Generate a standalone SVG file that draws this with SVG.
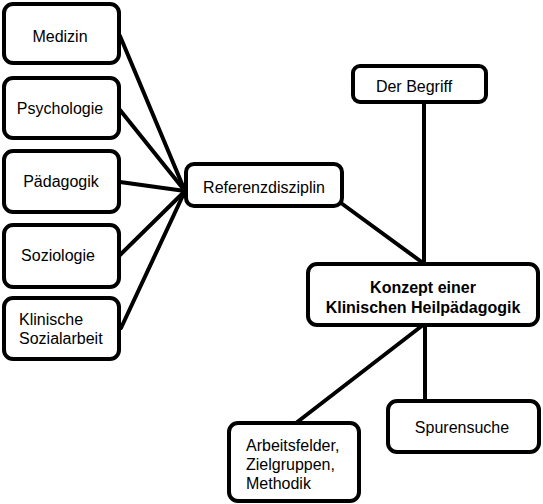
<svg xmlns="http://www.w3.org/2000/svg" width="543" height="504" viewBox="0 0 543 504">
<style>
.box{fill:#fff;stroke:#000;stroke-width:4}
.t{font-family:"Liberation Sans",Arial,sans-serif;font-size:16px;fill:#000}
.c{text-anchor:middle}
.b{font-weight:bold}
.ln{stroke:#000;stroke-width:4;fill:none;stroke-linecap:round}
</style>
<rect width="543" height="504" fill="#fff"/>
<g id="connectors">
<line class="ln" x1="120" y1="36" x2="185" y2="191"/>
<line class="ln" x1="120" y1="110" x2="185" y2="191"/>
<line class="ln" x1="120" y1="182" x2="185" y2="191"/>
<line class="ln" x1="120" y1="255" x2="185" y2="191"/>
<line class="ln" x1="121" y1="328" x2="185" y2="191"/>
<line class="ln" x1="341" y1="203" x2="423" y2="263"/>
<line class="ln" x1="424" y1="102" x2="424" y2="263"/>
<line class="ln" x1="423" y1="325" x2="296" y2="423"/>
<line class="ln" x1="425" y1="325" x2="425" y2="401"/>
</g>
<g id="medizin"><rect class="box" x="4" y="4" width="115" height="59" rx="9"/><text class="t c" x="60" y="42">Medizin</text></g>
<g id="psychologie"><rect class="box" x="4" y="78" width="115" height="60" rx="9"/><text class="t c" x="60" y="114">Psychologie</text></g>
<g id="paedagogik"><rect class="box" x="4" y="151" width="115" height="61" rx="9"/><text class="t c" x="61" y="187">Pädagogik</text></g>
<g id="soziologie"><rect class="box" x="4" y="225" width="115" height="62" rx="9"/><text class="t c" x="58" y="261">Soziologie</text></g>
<g id="klinische-sozialarbeit"><rect class="box" x="4" y="298" width="115" height="61" rx="9"/><text class="t" x="19" y="325">Klinische</text><text class="t" x="19" y="344">Sozialarbeit</text></g>
<g id="referenzdisziplin"><rect class="box" x="186" y="164" width="156" height="42" rx="8"/><text class="t c" x="264" y="193">Referenzdisziplin</text></g>
<g id="der-begriff"><rect class="box" x="353" y="66" width="133" height="36" rx="7"/><text class="t c" x="414" y="92">Der Begriff</text></g>
<g id="konzept"><rect class="box" x="308" y="264" width="230" height="61" rx="9"/><text class="t c b" x="423" y="293">Konzept einer</text><text class="t c b" x="423" y="313">Klinischen Heilpädagogik</text></g>
<g id="spurensuche"><rect class="box" x="388" y="401" width="151" height="51" rx="9"/><text class="t c" x="462" y="433">Spurensuche</text></g>
<g id="arbeitsfelder"><rect class="box" x="229" y="423" width="130" height="78" rx="9"/><text class="t" x="246" y="451">Arbeitsfelder,</text><text class="t" x="246" y="470">Zielgruppen,</text><text class="t" x="246" y="489">Methodik</text></g>
</svg>
